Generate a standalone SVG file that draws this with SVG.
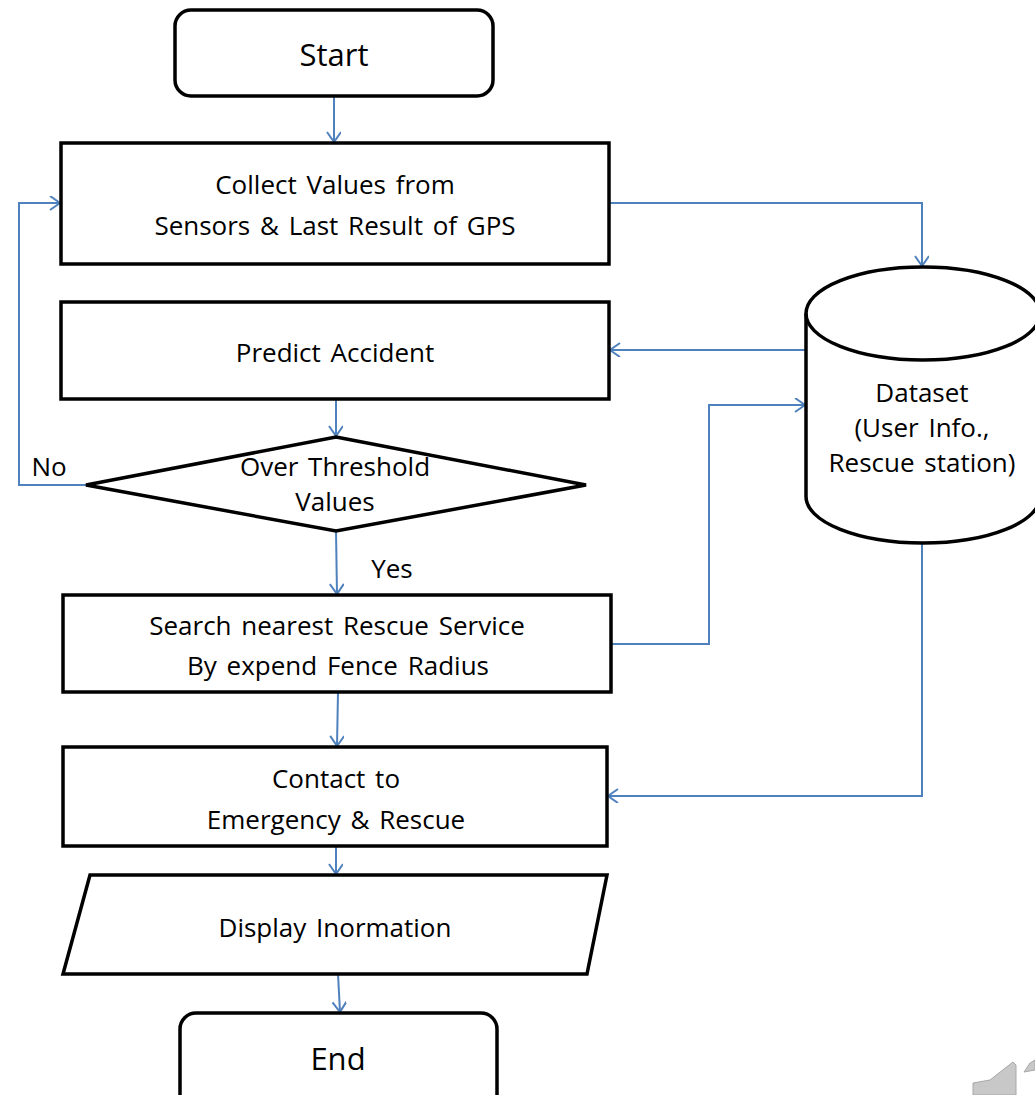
<svg xmlns="http://www.w3.org/2000/svg" width="1035" height="1095" viewBox="0 0 1035 1095">
<defs>
<marker id="arr" markerWidth="16" markerHeight="16" refX="11" refY="7" orient="auto" markerUnits="userSpaceOnUse">
<path d="M1,0 L11,7 L1,14" fill="none" stroke="#4F81BD" stroke-width="2"/>
</marker>
</defs>
<style>
.n{fill:#fff;stroke:#000;stroke-width:3.5}
.t{font-family:"Open Sans","Noto Sans",sans-serif;font-size:26px;word-spacing:3px;fill:#000;text-anchor:middle}
.big{font-size:31px}
.c{fill:none;stroke:#4F81BD;stroke-width:2;marker-end:url(#arr)}
</style>
<rect width="1035" height="1095" fill="#fff"/>
<g id="connectors">
<path class="c" d="M334,96 V142"/>
<path class="c" d="M609,203 H922 V266"/>
<path class="c" d="M806,350 H610"/>
<path class="c" d="M336,399 V436"/>
<path class="c" d="M86,485 H19 V203 H60"/>
<path class="c" d="M336,531 L337,594"/>
<path class="c" d="M611,644 H709 V405 H805"/>
<path class="c" d="M338,692 L337,746"/>
<path class="c" d="M922,543 V796 H608"/>
<path class="c" d="M336,846 V874"/>
<path class="c" d="M338,974 L340,1012"/>
</g>
<g id="start"><rect class="n" x="175" y="10" width="318" height="86" rx="16"/><text class="t big" x="334" y="66">Start</text></g>
<g id="collect"><rect class="n" x="61" y="143" width="548" height="121"/><text class="t" x="335" y="194">Collect Values from</text><text class="t" x="335" y="235">Sensors &amp; Last Result of GPS</text></g>
<g id="predict"><rect class="n" x="61" y="302" width="548" height="97"/><text class="t" x="335" y="362">Predict Accident</text></g>
<g id="decision"><polygon class="n" points="336,437 586,485 336,531 86,485"/><text class="t" x="335" y="476">Over Threshold</text><text class="t" x="335" y="511">Values</text></g>
<g id="labels"><text class="t" x="49" y="476">No</text><text class="t" x="392" y="578">Yes</text></g>
<g id="search"><rect class="n" x="63" y="595" width="548" height="97"/><text class="t" x="337" y="635">Search nearest Rescue Service</text><text class="t" x="338" y="675">By expend Fence Radius</text></g>
<g id="contact"><rect class="n" x="63" y="747" width="544" height="99"/><text class="t" x="336" y="788">Contact to</text><text class="t" x="336" y="829">Emergency &amp; Rescue</text></g>
<g id="display"><polygon class="n" points="90,875 607,875 587,974 63,974"/><text class="t" x="335" y="937">Display Inormation</text></g>
<g id="end"><rect class="n" x="180" y="1013" width="317" height="100" rx="16"/><text class="t big" x="338" y="1070">End</text></g>
<g id="dataset">
<path class="n" d="M806,313.5 V496.5 A117,46.5 0 0 0 1040,496.5 V313.5 A117,46.5 0 0 0 806,313.5 Z"/>
<path d="M806,313.5 A117,46.5 0 0 0 1040,313.5" fill="none" stroke="#000" stroke-width="3.5"/>
<text class="t" x="922" y="402">Dataset</text><text class="t" x="922" y="437">(User Info.,</text><text class="t" x="922" y="472">Rescue station)</text>
</g>
<g id="icon" fill="#c8c8c8" stroke="#a8a8a8" stroke-width="1">
<path d="M973,1095 V1083 L990,1080 L1013,1062 L1016,1065 V1095 Z"/>
<path d="M1024,1072 L1030,1063 L1035,1060 V1070 Z"/>
</g>
</svg>
